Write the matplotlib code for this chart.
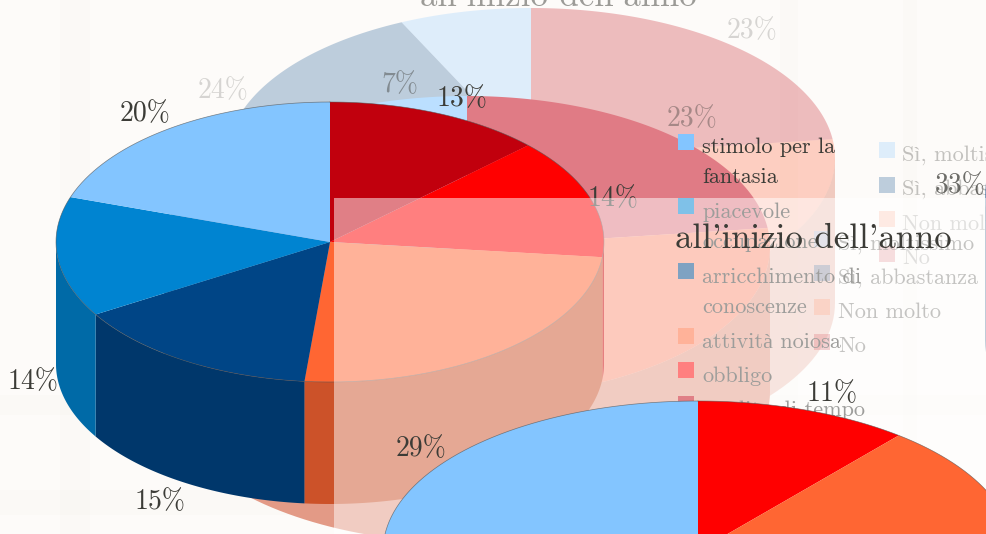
import matplotlib
matplotlib.use('Agg')
import matplotlib.pyplot as plt
from matplotlib.patches import Polygon, Rectangle
import numpy as np

plt.rcParams['font.family'] = ['cmr10', 'Liberation Serif']

# slices run clockwise from 12 o'clock
front_shares = [13, 14, 25, 15, 14, 20]
front_colors = ['#C1000D', '#FF0000', '#FF6633', '#004586', '#0084D1', '#83C5FF']

back_shares = [23, 46, 24, 7]
back_colors = ['#C1000D', '#FF4A1A', '#004586', '#83C5FF']

middle_shares = [23, 44, 26, 7]
middle_colors = ['#E07B85', '#FB957B', '#9FB5CB', '#BBDFFF']
middle_sides = ['#B9626B', '#E39A86', '#7F91A2', '#96B2CC']

bottom_shares = [11, 39, 50]
bottom_colors = ['#FF0000', '#FF6633', '#83C5FF']

legend_back = ['Sì, moltissimo', 'Sì, abbastanza', 'Non molto', 'No']
legend_back_colors = ['#83C5FF', '#004586', '#FF6633', '#C1000D']
legend_front = ['stimolo per la\nfantasia', 'piacevole\noccupazione',
                'arricchimento di\nconoscenze', 'attività noiosa',
                'obbligo', 'perdita di tempo']
legend_front_colors = ['#83C5FF', '#0084D1', '#004586', '#FF6633', '#FF0000', '#C1000D']

title_text = "all'inizio dell'anno"

TEXT = '#3c3c37'


def draw_pie(ax, cx, cy, rx, ry, depth, shares, colors, alpha=1.0, z=1, outline=False, sides=None):
    shares = np.array(shares, dtype=float)
    edges = np.concatenate([[0], np.cumsum(shares)]) / shares.sum() * 360
    for i in range(len(shares)):
        a, b = edges[i], edges[i + 1]
        # side wall, only the part facing the viewer
        lo, hi = max(a, 90), min(b, 270)
        if hi > lo:
            t = np.radians(np.linspace(lo, hi, 80))
            x = cx + rx * np.sin(t)
            y = cy - ry * np.cos(t)
            pts = np.vstack([np.column_stack([x, y]),
                             np.column_stack([x, y + depth])[::-1]])
            if sides is None:
                rgb = np.array(matplotlib.colors.to_rgb(colors[i])) * 0.8
            else:
                rgb = sides[i]
            ax.add_patch(Polygon(pts, closed=True, fc=rgb, ec='none', alpha=alpha, zorder=z))
        t = np.radians(np.linspace(a, b, 160))
        pts = np.column_stack([cx + rx * np.sin(t), cy - ry * np.cos(t)])
        pts = np.vstack([[cx, cy], pts])
        ax.add_patch(Polygon(pts, closed=True, fc=colors[i], ec='none', alpha=alpha, zorder=z))
    if outline:
        t = np.radians(np.linspace(0, 360, 400))
        ax.plot(cx + rx * np.sin(t), cy - ry * np.cos(t), color='#555555',
                lw=0.5, alpha=0.7, zorder=z + 0.1)


def label(ax, x, y, s, size=20, alpha=1.0, z=5):
    ax.text(x, y + 2, s, fontsize=size, color=TEXT, alpha=alpha, ha='center', va='center', zorder=z)


fig = plt.figure(figsize=(9.87, 5.34), dpi=100)
ax = fig.add_axes([0, 0, 1, 1])
ax.set_xlim(0, 987)
ax.set_ylim(534, 0)
ax.axis('off')
fig.patch.set_facecolor('#FDFBF9')

# paper bands in the background
for x0, w in [(903, 14), (60, 30), (780, 18)]:
    ax.add_patch(Rectangle((x0, 0), w, 534, fc='#E9DCCB', ec='none', alpha=0.06, zorder=0))
for y0, h in [(395, 20), (490, 25)]:
    ax.add_patch(Rectangle((0, y0), 987, h, fc='#E9DCCB', ec='none', alpha=0.06, zorder=0))

# layer 1: faded back pie and its legend
draw_pie(ax, 531, 158, 304, 150, 145, back_shares, back_colors, alpha=0.25, z=1)
ax.text(558, -3, title_text, fontsize=25, color=TEXT, alpha=0.5, ha='center', va='center', zorder=1.5)
label(ax, 752, 29, '23%', alpha=0.2, z=1.5)
label(ax, 223, 89, '24%', alpha=0.2, z=1.5)
label(ax, 400, 83, '7%', alpha=0.45, z=3)
for i, s in enumerate(legend_back):
    yy = 150 + i * 34.5
    ax.add_patch(Rectangle((879, yy - 8), 16, 16, fc=legend_back_colors[i], alpha=0.25, ec='none', zorder=1.5))
    ax.text(902, yy + 5, s, fontsize=16, color=TEXT, alpha=0.3, va='center', zorder=1.5)

# layer 2: middle pie and its legend
draw_pie(ax, 467, 247, 303, 151, 145, middle_shares, middle_colors, z=2, sides=middle_sides)
draw_pie(ax, 1289, 195, 304, 150, 145, [100], ['#004586'], alpha=0.5, z=2)
label(ax, 692, 117, '23%', alpha=0.4, z=3)
label(ax, 960, 184, '33%', alpha=0.75, z=3)
for i, s in enumerate(legend_back):
    yy = 239 + i * 34.2
    ax.add_patch(Rectangle((814, yy - 8), 16, 16, fc=legend_back_colors[i], alpha=0.35, ec='none', zorder=3))
    ax.text(838, yy + 5, s, fontsize=16, color=TEXT, alpha=0.6, va='center', zorder=3)

# layer 3: front pie
draw_pie(ax, 330, 242, 274, 140, 122, front_shares, front_colors, z=4, outline=True)
label(ax, 462, 97, '13%')
label(ax, 145, 112, '20%')
label(ax, 33, 380, '14%')
label(ax, 160, 500, '15%')
label(ax, 613, 197, '14%', z=5)
label(ax, 421, 447, '29%', z=9)

legend_y = [142, 206, 271, 336, 370, 404]
legend_text_y = [137.5, 202.5, 267.5, 332, 366, 400]
for y_pos, y_txt, s, c in zip(legend_y, legend_text_y, legend_front, legend_front_colors):
    ax.add_patch(Rectangle((678, y_pos - 8), 16, 16, fc=c, ec='none', zorder=5))
    ax.text(702, y_txt, s, fontsize=16, color=TEXT, va='top', linespacing=1.7, zorder=5)

# white veil of the slide fading in
ax.add_patch(Rectangle((334, 198), 653, 336, fc='white', ec='none', alpha=0.5, zorder=7))

# layer 4: top title and bottom pie
ax.text(813, 239, title_text, fontsize=25, color=TEXT, ha='center', va='center', zorder=8)
draw_pie(ax, 698, 551, 315, 150, 145, bottom_shares, bottom_colors, z=8, outline=True)
label(ax, 832, 392, '11%', z=9)

plt.savefig('out.png', dpi=100)
